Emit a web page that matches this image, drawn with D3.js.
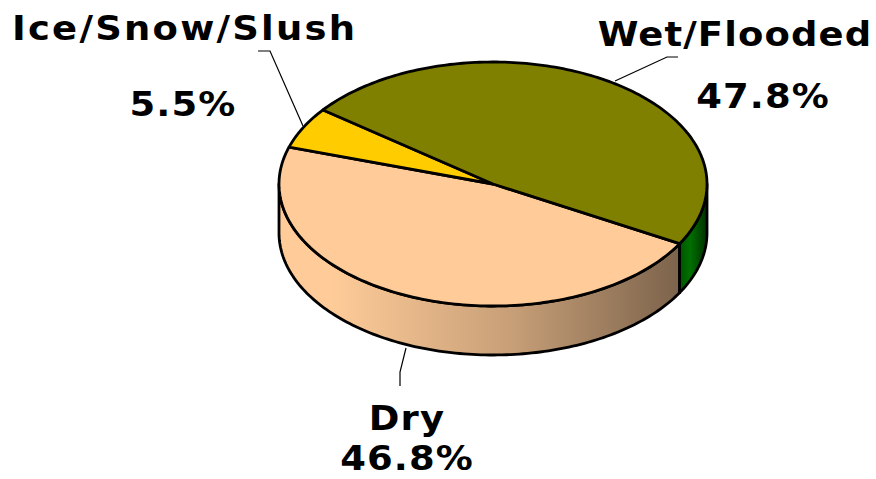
<!DOCTYPE html>
<html>
<head>
<meta charset="utf-8">
<script src="https://cdn.jsdelivr.net/npm/d3@7"></script>
<style>
  body { margin: 0; background: #fff; }
  text { font-family: "DejaVu Sans", Verdana, sans-serif; font-weight: bold; fill: #000; }
</style>
</head>
<body>
<div id="chart"></div>
<script>
// data
var categories = ["Dry", "Ice/Snow/Slush", "Wet/Flooded"];
var shares = [46.8, 5.5, 47.8];
var topColors = ["#FFCC99", "#FFCC00", "#808000"];
var labelText = ["46.8%", "5.5%", "47.8%"];

var width = 876, height = 479;
var cx = 493, cy = 184, rx = 214, ry = 122, depth = 49;
var startDeg = 119.3; // d3 angle where Dry begins

var svg = d3.select("#chart").append("svg")
    .attr("width", width)
    .attr("height", height);

var defs = svg.append("defs");
var gDry = defs.append("linearGradient")
    .attr("id", "sideDry")
    .attr("gradientUnits", "userSpaceOnUse")
    .attr("x1", cx - rx).attr("x2", cx + rx).attr("y1", 0).attr("y2", 0);
gDry.append("stop").attr("offset", "0").attr("stop-color", "#FFCC99");
gDry.append("stop").attr("offset", "0.12").attr("stop-color", "#FFCC99");
gDry.append("stop").attr("offset", "0.55").attr("stop-color", "#C69E77");
gDry.append("stop").attr("offset", "0.93").attr("stop-color", "#7D644C");
gDry.append("stop").attr("offset", "1").attr("stop-color", "#775F48");

var gWet = defs.append("linearGradient")
    .attr("id", "sideWet")
    .attr("gradientUnits", "userSpaceOnUse")
    .attr("x1", 676).attr("x2", cx + rx).attr("y1", 0).attr("y2", 0);
gWet.append("stop").attr("offset", "0").attr("stop-color", "#004A00");
gWet.append("stop").attr("offset", "0.45").attr("stop-color", "#007000");
gWet.append("stop").attr("offset", "1").attr("stop-color", "#003000");

var sideFill = ["url(#sideDry)", "#CC9900", "url(#sideWet)"];

var pie = d3.pie().sort(null).value(function (d) { return d; })
    .startAngle(startDeg * Math.PI / 180)
    .endAngle(startDeg * Math.PI / 180 + 2 * Math.PI);
var arcs = pie(shares);

// d3 angle -> screen angle (clockwise from 3 o'clock)
function scr(a) { return a - Math.PI / 2; }
function px(t) { return cx + rx * Math.cos(t); }
function py(t, dz) { return cy + (dz || 0) + ry * Math.sin(t); }

function ellArc(t0, t1, dz) {
    // sample the ellipse between two screen angles
    var n = Math.max(2, Math.ceil(Math.abs(t1 - t0) / 0.02));
    var pts = [];
    for (var i = 0; i <= n; i++) {
        var t = t0 + (t1 - t0) * i / n;
        pts.push([px(t), py(t, dz)]);
    }
    return pts;
}

var line = d3.line();

// side walls: only the front half (screen angle 0..PI) shows
var sides = svg.append("g").attr("class", "sides");
arcs.forEach(function (d, i) {
    var a0 = scr(d.startAngle), a1 = scr(d.endAngle);
    // check the slice against both front windows [0,PI] and [2PI,3PI]
    [0, 2 * Math.PI].forEach(function (off) {
        var s = Math.max(a0, off), e = Math.min(a1, off + Math.PI);
        if (e <= s) return;
        var pts = ellArc(s, e, 0).concat(ellArc(e, s, depth));
        sides.append("path")
            .attr("d", line(pts) + "Z")
            .attr("fill", sideFill[i])
            .attr("stroke", "#000")
            .attr("stroke-width", 2.8)
            .attr("stroke-linejoin", "round");
    });
});

// top faces
var tops = svg.append("g").attr("class", "tops");
arcs.forEach(function (d, i) {
    var pts = [[cx, cy]].concat(ellArc(scr(d.startAngle), scr(d.endAngle), 0));
    tops.append("path")
        .attr("d", line(pts) + "Z")
        .attr("fill", topColors[i])
        .attr("stroke", "#000")
        .attr("stroke-width", 2.8)
        .attr("stroke-linejoin", "round");
});

// labels and leader lines
var labels = [
    { name: [407, 430], pct: [407, 470], anchor: "middle",
      leader: [[406, 348], [400, 372], [400, 386]] },
    { name: [12, 40], pct: [183, 116], anchor: "start", pctAnchor: "middle",
      leader: [[258, 51], [270, 51], [303, 126]] },
    { name: [735, 46], pct: [763, 108], anchor: "middle",
      leader: [[678, 57], [667, 57], [615, 81]] }
];

var stretch = 1.12;
var lab = svg.append("g").attr("class", "labels");
function addText(x, y, anchor, str, ls) {
    lab.append("text")
        .attr("transform", "translate(" + x + "," + y + ") scale(" + stretch + ",1)")
        .attr("text-anchor", anchor)
        .style("font-size", "33px")
        .style("letter-spacing", ls + "px")
        .text(str);
}
labels.forEach(function (l, i) {
    lab.append("path")
        .attr("d", line(l.leader))
        .attr("fill", "none")
        .attr("stroke", "#000")
        .attr("stroke-width", 1.2);
    addText(l.name[0], l.name[1], l.anchor, categories[i], i == 1 ? 2 : 1);
    addText(l.pct[0], l.pct[1], l.pctAnchor || l.anchor, labelText[i], 1);
});
</script>
</body>
</html>
